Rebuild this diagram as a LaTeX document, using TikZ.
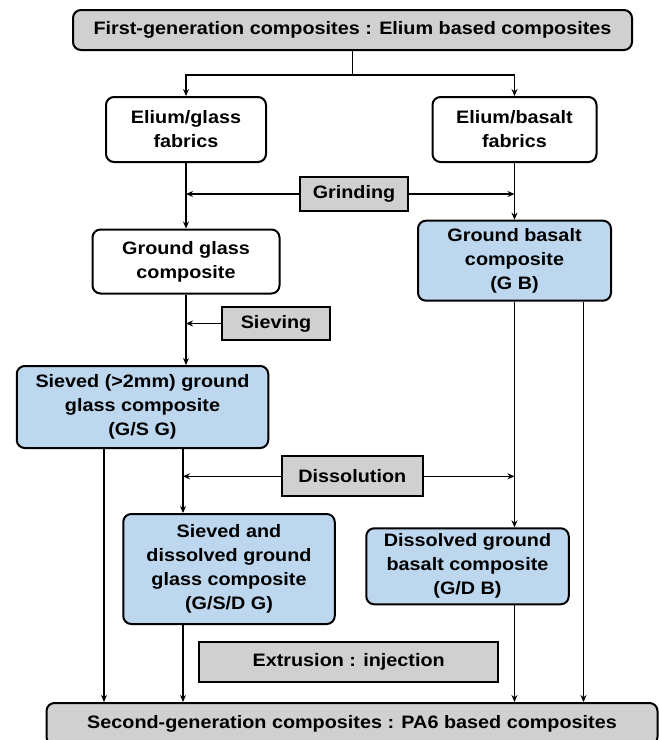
\documentclass[tikz,border=0pt]{standalone}
\usepackage{fontspec}
\setmainfont{Liberation Sans}[FakeStretch=1.1]
\usepackage{tikz}
\usetikzlibrary{arrows.meta}
\definecolor{boxgray}{RGB}{208,208,208}
\definecolor{boxblue}{RGB}{189,215,238}
\tikzset{>={Stealth[length=7pt,width=6pt]},
x=1pt,y=-1pt,
every node/.style={font=\bfseries\fontsize{18}{24}\selectfont, align=center, inner sep=0pt},
%rounded boxes
state/.style={draw, line width=2pt, rounded corners=8pt, fill=white},
result/.style={state, fill=boxblue},
generation/.style={state, fill=boxgray},
%process steps
process/.style={draw, line width=2pt, fill=boxgray},
flow/.style={->, line width=1.5pt}}

\begin{document}
\begin{tikzpicture}
\useasboundingbox (0,0) rectangle (659,740);
\node[generation, minimum width=559pt, minimum height=40pt] (T) at (352.5,30) {First-generation composites : Elium based composites};
\node[state, minimum width=160pt, minimum height=65pt] (EG) at (186,129.5) {Elium/glass\\fabrics};
\node[state, minimum width=164pt, minimum height=65pt] (EB) at (514.5,129.5) {Elium/basalt\\fabrics};
\node[process, minimum width=108pt, minimum height=34pt] (G) at (354,194) {Grinding};
\node[state, minimum width=187pt, minimum height=64pt] (GG) at (186,261.5) {Ground glass\\composite};
\node[result, minimum width=193pt, minimum height=80pt] (GB) at (514.5,260.7) {Ground basalt\\composite\\(G B)};
\node[process, minimum width=108pt, minimum height=33pt] (S) at (276,323.5) {Sieving};
\node[result, minimum width=251.5pt, minimum height=82pt] (SG) at (142.5,407) {Sieved (>2mm) ground\\glass composite\\(G/S G)};
\node[process, minimum width=141pt, minimum height=40pt] (D) at (352.3,476.3) {Dissolution};
\node[result, minimum width=211.5pt, minimum height=110pt] (SDG) at (229,569) {Sieved and\\dissolved ground\\glass composite\\(G/S/D G)};
\node[result, minimum width=202.5pt, minimum height=76pt] (DB) at (467.5,566.3) {Dissolved ground\\basalt composite\\(G/D B)};
\node[process, minimum width=299pt, minimum height=40.6pt] (X) at (348.7,662) {Extrusion : injection};
\node[generation, minimum width=611pt, minimum height=42pt] (B) at (352,724) {Second-generation composites : PA6 based composites};
% columns of the vertical lines
\coordinate (gl) at (183,0);
\coordinate (bs) at (514.5,0);
\coordinate (lf) at (104,0);
\coordinate (rt) at (583.5,0);
\draw[flow] (T.south) -- ++(0,24) -| (EG.north);
\draw[flow] (T.south) ++(0,24) -| (EB.north);
\draw[flow] (EG) -- (GG);
\draw[flow] (EB) -- (GB);
\draw[flow] (G.west) -- (G.west -| EG.south);
\draw[flow] (G.east) -- (G.east -| EB.south);
\draw[flow] (GG.south) -- (GG.south |- SG.north);
\draw[flow] (S.west) -- (S.west -| GG.south);
\draw[flow] (SG.south -| gl) -- (SDG.north -| gl);
\draw[flow] (D.west) -- (D.west -| gl);
\draw[flow] (D.east) -- (D.east -| bs);
\draw[flow] (GB.south -| bs) -- (DB.north -| bs);
\draw[flow] (SG.south -| lf) -- (B.north -| lf);
\draw[flow] (SDG.south -| gl) -- (B.north -| gl);
\draw[flow] (DB.south -| bs) -- (B.north -| bs);
\draw[flow] (GB.south -| rt) -- (B.north -| rt);
\end{tikzpicture}
\end{document}
